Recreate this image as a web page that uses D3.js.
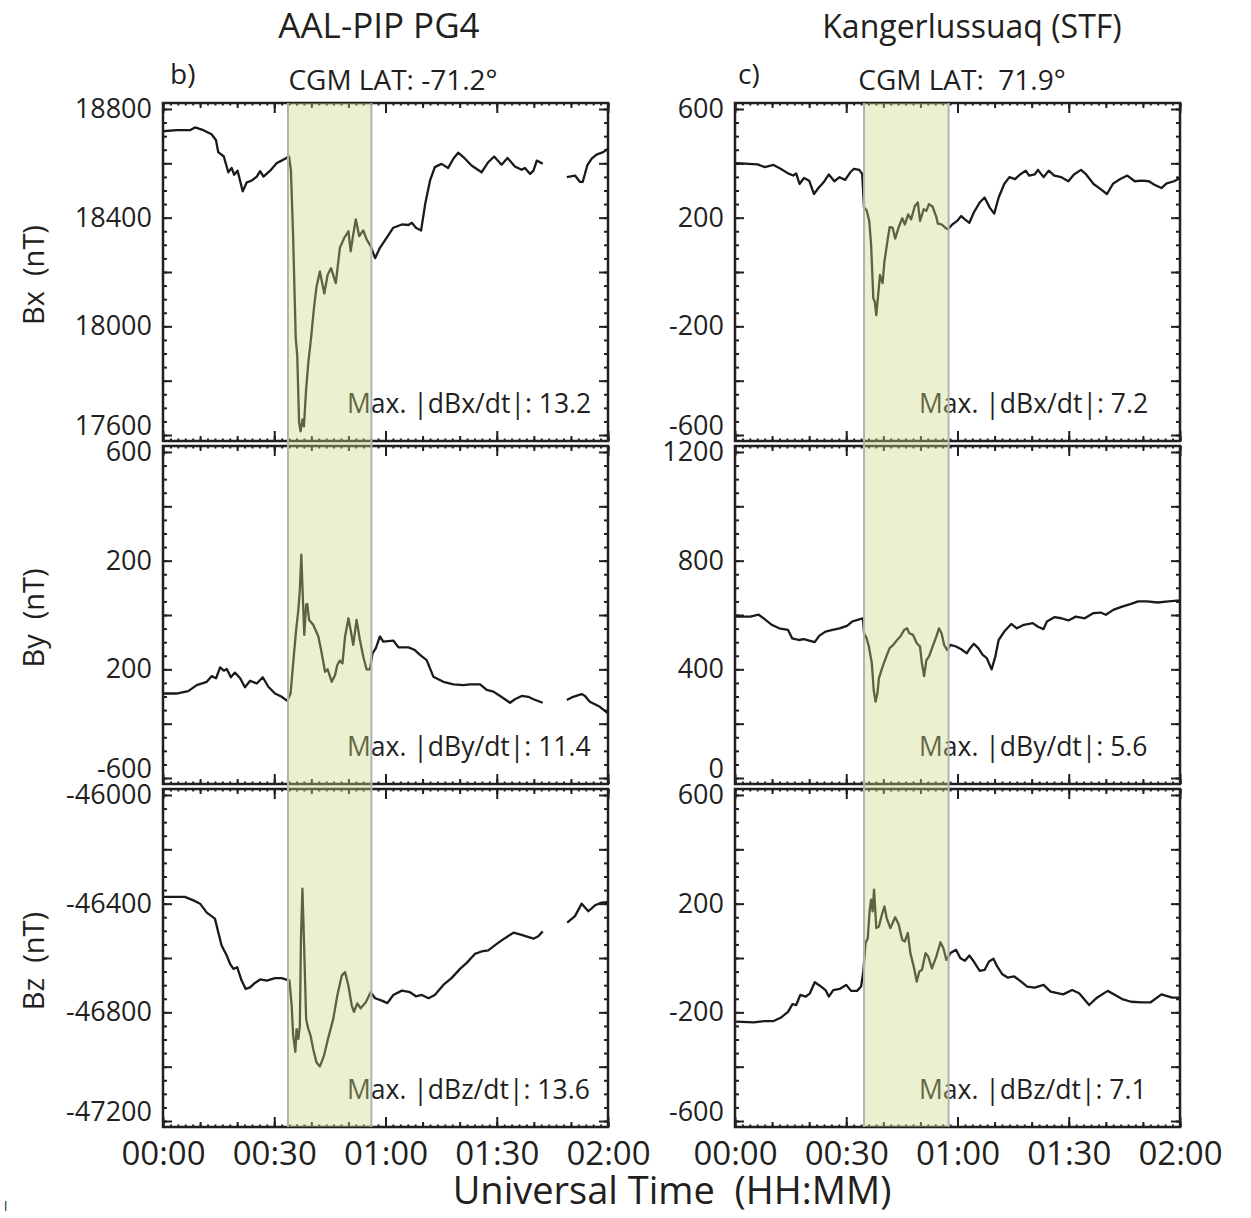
<!DOCTYPE html>
<html>
<head>
<meta charset="utf-8">
<script src="https://cdn.jsdelivr.net/npm/d3@7"></script>
<style>
  body { margin: 0; background: #fff; }
  text { font-family: "Open Sans", "Noto Sans", sans-serif; fill: #231f20; white-space: pre; }
</style>
</head>
<body>
<div id="chart"></div>
<script>
// ---- data: [minutes after 00:00 UT, nT]; null marks a data gap ----
const pg4Bx = [
  [0,18718],[3.7,18722],[7.3,18722],[8.6,18732],[10.9,18722],[13.1,18707],[14.3,18685],[14.9,18641],
  [16.4,18625],[17.6,18567],[18.5,18583],[19.2,18558],[20.1,18573],[21.5,18497],[22.6,18530],[23.9,18536],
  [25.3,18551],[26.2,18571],[27.1,18551],[28.9,18573],[30.7,18601],[32.0,18610],[33.3,18620],[34.0,18625],
  [34.5,18573],[35.1,18326],[35.8,17954],[36.2,17892],[36.7,17645],[37.1,17614],[37.6,17657],[38.0,17632],
  [38.6,17769],[39.2,17868],[39.9,17954],[40.7,18066],[41.4,18146],[42.3,18202],[43.5,18121],[44.4,18190],
  [45.3,18214],[46.6,18159],[47.7,18289],[48.9,18326],[50.0,18350],[50.6,18276],[51.3,18338],[52.0,18394],
  [52.9,18332],[54.0,18353],[54.9,18320],[56.0,18295],[57.2,18251],[58.5,18289],[60.3,18326],[62.1,18363],
  [64.4,18375],[66.2,18373],[67.1,18381],[68.2,18363],[69.6,18353],[70.7,18450],[72.0,18536],[73.3,18586],
  [75.1,18598],[76.9,18583],[78.3,18617],[79.6,18639],[81.0,18623],[83.2,18592],[85.9,18567],[87.7,18604],
  [89.3,18625],[91.3,18595],[92.9,18620],[94.9,18588],[96.7,18576],[97.6,18583],[99.0,18561],[99.9,18573],
  [100.8,18610],[102.4,18598],[105,null],
  [108.9,18549],[111.1,18555],[112.4,18532],[113.2,18532],[114.4,18592],[115.6,18617],[116.9,18632],
  [118.7,18641],[120,18654]
];
const pg4By = [
  [0,-289],[3.6,-289],[6.8,-280],[9.1,-258],[11.8,-246],[13.1,-225],[14.3,-233],[15.4,-193],[16.4,-205],
  [17.2,-199],[18.3,-229],[19.4,-212],[20.8,-233],[22.1,-266],[23.5,-242],[25.3,-252],[26.9,-229],
  [28.4,-264],[30.2,-289],[32.0,-301],[33.5,-316],[34.4,-289],[35.1,-178],[35.9,-55],[36.5,19],[36.9,93],
  [37.3,222],[37.7,68],[38.1,-73],[38.6,38],[38.9,41],[39.4,-18],[40.5,-36],[41.9,-79],[42.8,-141],
  [43.7,-209],[44.4,-200],[45.5,-246],[46.4,-221],[47.0,-184],[47.7,-168],[48.4,-178],[49.1,-79],
  [50.0,-12],[50.6,-55],[51.3,-110],[52.2,-18],[53.1,-92],[54.0,-153],[54.9,-200],[55.8,-200],
  [56.5,-141],[57.4,-122],[58.5,-79],[59.4,-98],[62.1,-94],[63.5,-119],[66.2,-119],[67.9,-129],
  [69.3,-147],[71.1,-166],[72.9,-227],[75.6,-246],[78.3,-255],[81.0,-258],[82.8,-255],[85.5,-255],
  [87.3,-276],[89.1,-282],[90.9,-298],[93.6,-323],[94.9,-310],[96.7,-298],[98.5,-301],[99.9,-310],
  [102.4,-323],[105,null],
  [108.9,-313],[110.6,-301],[112.9,-291],[113.8,-298],[115.1,-319],[117.8,-338],[120,-362]
];
const pg4Bz = [
  [0,-46375],[5.9,-46375],[8.2,-46388],[10.0,-46400],[11.8,-46433],[14.0,-46455],[14.9,-46505],
  [15.8,-46554],[17.2,-46591],[18.1,-46622],[19.0,-46640],[20.0,-46634],[21.2,-46683],[22.3,-46714],
  [23.5,-46708],[24.5,-46695],[26.2,-46679],[28.0,-46683],[30.2,-46674],[32.0,-46674],[34.1,-46683],
  [34.7,-46775],[35.1,-46886],[35.7,-46945],[36.0,-46862],[36.5,-46898],[36.9,-46849],[37.2,-46529],
  [37.6,-46345],[38.0,-46529],[38.6,-46825],[39.2,-46862],[39.8,-46886],[40.5,-46935],[41.4,-46985],
  [42.3,-46999],[43.4,-46960],[44.6,-46892],[45.9,-46825],[47.0,-46738],[48.2,-46665],[49.1,-46652],
  [50.0,-46702],[50.9,-46775],[51.5,-46798],[52.4,-46767],[53.3,-46785],[54.7,-46763],[56.0,-46726],
  [57.2,-46748],[59.0,-46757],[60.5,-46766],[62.1,-46736],[64.4,-46720],[66.6,-46726],[68.2,-46741],
  [69.8,-46736],[71.6,-46748],[73.3,-46736],[75.6,-46699],[77.8,-46674],[80.1,-46640],[81.9,-46618],
  [84.1,-46585],[85.9,-46576],[87.7,-46572],[90.0,-46548],[92.2,-46527],[94.5,-46507],[96.7,-46515],
  [99.9,-46529],[101.2,-46520],[102.4,-46502],[105,null],
  [109.0,-46470],[111.1,-46446],[112.9,-46400],[114.7,-46428],[116.5,-46406],[118.3,-46396],[120,-46394]
];
const stfBx = [
  [0.3,401],[6.1,396],[8.0,386],[10.4,394],[12.3,380],[14.3,363],[15.7,355],[16.5,363],[17.4,324],
  [18.6,346],[20.0,336],[21.3,287],[22.5,309],[23.9,330],[25.3,359],[26.8,334],[28.2,349],[29.7,339],
  [31.1,367],[32.1,380],[33.5,376],[34.3,361],[34.8,237],[35.5,227],[36.2,188],[36.7,101],[37.3,-97],
  [37.7,-110],[38.1,-159],[38.6,-85],[39.1,-11],[39.8,-41],[40.3,39],[41.1,113],[41.7,165],[42.5,163],
  [43.2,123],[44.1,163],[45.1,198],[45.8,175],[46.7,212],[47.5,194],[48.5,243],[49.3,256],[49.9,188],
  [50.9,231],[51.6,225],[52.3,250],[53.3,240],[54.3,202],[54.7,178],[55.7,175],[56.7,163],[57.4,157],
  [58.6,175],[59.9,188],[61.0,206],[62.0,194],[63.2,181],[64.4,219],[66.0,256],[67.3,274],[68.7,237],
  [69.9,215],[71.1,274],[72.6,324],[74.0,349],[75.5,342],[76.9,359],[78.4,373],[79.3,355],[80.8,359],
  [81.7,376],[83.2,349],[84.6,373],[86.1,355],[88.0,349],[89.9,334],[91.4,359],[93.3,376],[94.7,359],
  [96.7,324],[98.6,305],[100.3,287],[102.0,326],[103.9,342],[105.8,355],[107.8,334],[109.7,336],
  [111.6,334],[113.1,321],[115.0,309],[116.4,326],[118.4,334],[120,346]
];
const stfBy = [
  [0.3,594],[4.1,594],[6.4,601],[8.0,585],[9.9,564],[11.9,551],[14.3,545],[15.4,514],[17.2,508],
  [18.6,511],[20.0,506],[21.5,500],[22.7,523],[24.4,539],[26.3,545],[28.2,551],[30.2,560],[31.6,576],
  [33.1,582],[34.5,588],[34.8,533],[35.5,514],[36.1,484],[36.9,422],[37.4,324],[37.9,281],[38.4,311],
  [38.8,367],[39.8,410],[40.8,447],[41.7,478],[42.7,490],[43.7,508],[44.6,521],[45.6,545],[46.4,551],
  [47.0,533],[48.0,527],[49.0,496],[49.9,484],[50.4,422],[51.0,375],[51.6,434],[52.3,447],[53.3,484],
  [54.3,521],[55.0,551],[55.7,533],[56.4,490],[57.2,471],[58.1,490],[59.6,484],[61.0,474],[62.5,459],
  [63.4,478],[64.4,494],[65.6,478],[66.8,453],[67.9,441],[69.2,400],[70.2,447],[71.1,508],[72.6,539],
  [74.5,567],[76.0,551],[77.9,564],[80.3,570],[81.7,557],[83.2,548],[84.1,576],[86.1,592],[88.0,588],
  [89.9,580],[91.9,594],[94.3,588],[96.7,607],[98.6,609],[100.0,601],[102.0,619],[104.4,631],[106.8,641],
  [108.7,650],[111.1,650],[114.0,646],[116.9,650],[120,654]
];
const stfBz = [
  [0.3,-234],[5.1,-237],[8.0,-232],[10.4,-232],[12.3,-220],[14.3,-198],[15.5,-170],[16.5,-173],
  [17.6,-136],[19.1,-142],[20.2,-130],[21.5,-89],[22.9,-102],[24.4,-118],[25.3,-142],[26.5,-118],
  [28.2,-114],[30.0,-99],[31.3,-121],[32.9,-121],[34.0,-105],[34.6,-50],[35.2,55],[35.8,73],[36.3,172],
  [36.7,215],[37.1,172],[37.5,252],[38.1,110],[38.8,116],[39.6,159],[40.3,190],[40.9,147],[41.9,110],
  [43.2,150],[44.1,125],[45.1,67],[45.8,61],[46.6,92],[47.3,18],[48.3,-38],[49.0,-87],[49.7,-50],
  [50.4,-44],[51.4,18],[52.1,6],[53.1,-38],[54.3,6],[55.4,58],[56.2,36],[57.0,-7],[58.1,18],[59.6,30],
  [60.8,-1],[62.0,-10],[63.2,9],[64.4,-13],[66.0,-47],[67.3,-44],[68.5,-13],[69.7,-3],[70.7,-31],
  [72.1,-60],[73.5,-72],[75.3,-68],[76.9,-84],[78.8,-105],[80.8,-109],[83.2,-99],[85.1,-124],[88.5,-134],
  [90.9,-118],[92.8,-130],[95.5,-173],[97.6,-146],[100.5,-121],[102.5,-136],[104.4,-151],[106.8,-161],
  [109.7,-163],[112.1,-163],[115.0,-134],[117.9,-146],[120,-146]
];

// ---- labelled y ticks (the figure's own labels, top to bottom) ----
const pg4BxTicks = [18800, 18400, 18000, 17600];
const pg4BxLabels = ["18800", "18400", "18000", "17600"];
const pg4ByTicks = [600, 200, -200, -600];
const pg4ByLabels = ["600", "200", "200", "-600"];
const pg4BzTicks = [-46000, -46400, -46800, -47200];
const pg4BzLabels = ["-46000", "-46400", "-46800", "-47200"];
const stfBxTicks = [600, 200, -200, -600];
const stfBxLabels = ["600", "200", "-200", "-600"];
const stfByTicks = [1200, 800, 400, 0];
const stfByLabels = ["1200", "800", "400", "0"];
const stfBzTicks = [600, 200, -200, -600];
const stfBzLabels = ["600", "200", "-200", "-600"];

const xTicks = [0, 30, 60, 90, 120];
const xLabels = ["00:00", "00:30", "01:00", "01:30", "02:00"];

const stations = ["AAL-PIP PG4", "Kangerlussuaq (STF)"];
const panelTags = ["b)", "c)"];
const cgmLat = ["CGM LAT: -71.2°", "CGM LAT:  71.9°"];
const components = ["Bx  (nT)", "By  (nT)", "Bz  (nT)"];
const maxNotes = [
  ["Max. |dBx/dt|: 13.2", "Max. |dBy/dt|: 11.4", "Max. |dBz/dt|: 13.6"],
  ["Max. |dBx/dt|: 7.2", "Max. |dBy/dt|: 5.6", "Max. |dBz/dt|: 7.1"]
];
// highlighted interval (minutes) per station
const bandStart = [33.7, 34.8];
const bandEnd = [56.2, 57.6];

// ---- layout ----
const width = 1251, height = 1218;
const cols = [[163, 608], [735, 1180]];
const rowTop = [103, 446, 789];
const panelH = 338;
const yPad = 22;
const ink = "#231f20";

const series = [[pg4Bx, pg4By, pg4Bz], [stfBx, stfBy, stfBz]];
const tickSets = [[pg4BxTicks, pg4ByTicks, pg4BzTicks], [stfBxTicks, stfByTicks, stfBzTicks]];
const labelSets = [[pg4BxLabels, pg4ByLabels, pg4BzLabels], [stfBxLabels, stfByLabels, stfBzLabels]];

const svg = d3.select("#chart").append("svg")
  .attr("width", width)
  .attr("height", height);

function styleAxis(sel, size) {
  sel.select(".domain").remove();
  sel.attr("font-family", null).attr("font-size", null).attr("fill", null);
  sel.selectAll(".tick line").attr("stroke", ink).attr("stroke-width", 2);
  sel.selectAll(".tick text").attr("fill", ink).attr("font-size", size || 27);
  return sel;
}

cols.forEach(([x0, x1], c) => {
  const x = d3.scaleLinear().domain([0, 120]).range([x0, x1]);

  rowTop.forEach((y0, r) => {
    const ticks = tickSets[c][r];
    const labels = labelSets[c][r];
    const lo = d3.min(ticks), hi = d3.max(ticks);
    const y = d3.scaleLinear().domain([lo - yPad, hi + yPad]).range([y0 + panelH, y0]);
    const g = svg.append("g");

    // y ticks: minor every 50, major every 200, labels every 400
    const minor = d3.range(lo, hi + 1, 50);
    const major = d3.range(lo, hi + 1, 200);
    styleAxis(g.append("g").attr("transform", `translate(${x0},0)`)
      .call(d3.axisLeft(y).tickValues(minor).tickSize(-4).tickFormat("")));
    const yl = styleAxis(g.append("g").attr("transform", `translate(${x0},0)`)
      .call(d3.axisLeft(y).tickValues(major).tickSize(-9).tickPadding(11)
        .tickFormat(d => { const i = ticks.indexOf(d); return i < 0 ? "" : labels[i]; })));
    // lowest label sits a little higher, clear of the panel below
    yl.selectAll(".tick text").filter(d => d === lo).attr("y", -9);
    styleAxis(g.append("g").attr("transform", `translate(${x1},0)`)
      .call(d3.axisRight(y).tickValues(minor).tickSize(-4).tickFormat("")));
    styleAxis(g.append("g").attr("transform", `translate(${x1},0)`)
      .call(d3.axisRight(y).tickValues(major).tickSize(-9).tickFormat("")));

    // x ticks top and bottom: 2 min, 10 min, 30 min
    const xt = [[d3.range(0, 121, 2), 2.5], [d3.range(0, 121, 10), 5], [xTicks, 10]];
    xt.forEach(([vals, len]) => {
      styleAxis(g.append("g").attr("transform", `translate(0,${y0})`)
        .call(d3.axisTop(x).tickValues(vals).tickSize(-len).tickFormat("")));
      styleAxis(g.append("g").attr("transform", `translate(0,${y0 + panelH})`)
        .call(d3.axisBottom(x).tickValues(vals).tickSize(-len).tickFormat("")));
    });
    if (r === 2) {
      styleAxis(g.append("g").attr("transform", `translate(0,${y0 + panelH})`)
        .call(d3.axisBottom(x).tickValues(xTicks).tickSize(0).tickPadding(15)
          .tickFormat((d, i) => xLabels[i])), 33);
    }

    // data line
    const line = d3.line()
      .defined(d => d[1] != null)
      .x(d => x(d[0]))
      .y(d => y(d[1]));
    g.append("path")
      .datum(series[c][r])
      .attr("fill", "none")
      .attr("stroke", "#1a1a1a")
      .attr("stroke-width", 2.3)
      .attr("stroke-linejoin", "round")
      .attr("d", line);

    // frame
    g.append("rect")
      .attr("x", x0).attr("y", y0)
      .attr("width", x1 - x0).attr("height", panelH)
      .attr("fill", "none").attr("stroke", ink).attr("stroke-width", 2.5);

    // max |dB/dt| note
    g.append("text")
      .attr("x", x0 + 184)
      .attr("y", y0 + panelH - 28)
      .attr("font-size", 26.5)
      .text(maxNotes[c][r]);

    // component label on the left column only
    if (c === 0) {
      svg.append("text")
        .attr("transform", `translate(44,${y0 + panelH / 2 + 3}) rotate(-90)`)
        .attr("text-anchor", "middle")
        .attr("font-size", 29)
        .text(components[r]);
    }
  });

  // highlighted interval, laid over lines and text
  const top = rowTop[0], bottom = rowTop[2] + panelH;
  svg.append("rect")
    .attr("x", x(bandStart[c]))
    .attr("y", top)
    .attr("width", x(bandEnd[c]) - x(bandStart[c]))
    .attr("height", bottom - top)
    .attr("fill", "rgb(203,216,132)")
    .attr("fill-opacity", 0.38);
  [bandStart[c], bandEnd[c]].forEach(t => {
    svg.append("line")
      .attr("x1", x(t)).attr("x2", x(t))
      .attr("y1", top).attr("y2", bottom)
      .attr("stroke", "#b2b2b2").attr("stroke-width", 2);
  });

  // headings
  svg.append("text")
    .attr("x", c === 0 ? 379 : 972)
    .attr("y", 38)
    .attr("text-anchor", "middle")
    .attr("font-size", c === 0 ? 35 : 32)
    .text(stations[c]);
  svg.append("text")
    .attr("x", c === 0 ? 170 : 738)
    .attr("y", 84)
    .attr("font-size", 28)
    .text(panelTags[c]);
  svg.append("text")
    .attr("x", c === 0 ? 393 : 962)
    .attr("y", 90)
    .attr("text-anchor", "middle")
    .attr("font-size", 28)
    .text(cgmLat[c]);
});

svg.append("text")
  .attr("x", 672)
  .attr("y", 1204)
  .attr("text-anchor", "middle")
  .attr("font-size", 38)
  .text("Universal Time  (HH:MM)");

// stray mark at the lower-left corner of the source figure
svg.append("text")
  .attr("x", 4)
  .attr("y", 1211)
  .attr("font-size", 13)
  .text("l");
</script>
</body>
</html>
